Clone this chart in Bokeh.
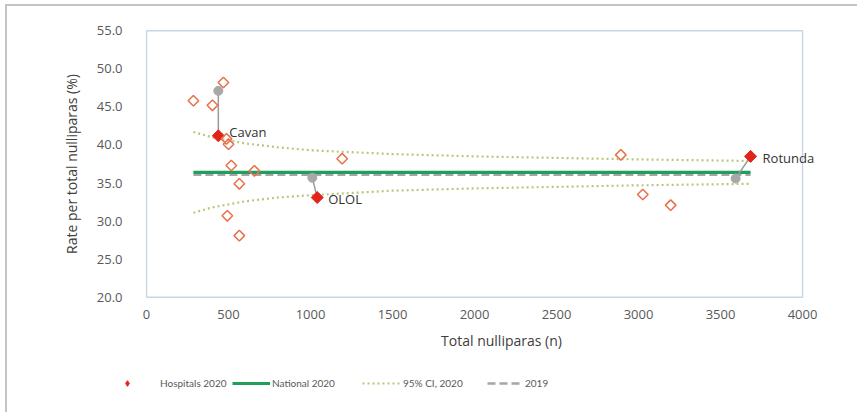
import math
from bokeh.plotting import figure
from bokeh.layouts import column
from bokeh.models import (Range1d, FixedTicker, PrintfTickFormatter, Legend,
                          LegendItem)
from bokeh.core.properties import value
from bokeh.embed import file_html
from bokeh.resources import INLINE

# Hospitals 2020: total nulliparas (n) and rate per total nulliparas (%)
hosp_n = [286, 402, 469, 488, 500, 517, 566, 658, 493, 566, 1193, 2892, 3026, 3196]
hosp_rate = [45.8, 45.2, 48.2, 40.8, 40.1, 37.3, 34.9, 36.6, 30.7, 28.1, 38.2, 38.7, 33.5, 32.1]

# Highlighted hospitals, 2020 and their 2019 positions
named = ["Cavan", "OLOL", "Rotunda"]
named_n_2020 = [438, 1041, 3683]
named_rate_2020 = [41.2, 33.1, 38.5]
named_n_2019 = [438, 1011, 3592]
named_rate_2019 = [47.1, 35.7, 35.6]

# National rates
national_2020 = 36.4
national_2019 = 36.1

# 95% control limits around the national 2020 rate
ci_n = [286, 400, 600, 800, 1000, 1500, 2000, 2500, 3000, 3683]
ci_upper = [41.7, 41.0, 40.2, 39.7, 39.3, 38.8, 38.5, 38.3, 38.1, 37.9]
ci_lower = [31.1, 31.8, 32.6, 33.1, 33.4, 34.0, 34.3, 34.5, 34.7, 34.9]

x_ticks = [0, 500, 1000, 1500, 2000, 2500, 3000, 3500, 4000]
y_ticks = [20, 25, 30, 35, 40, 45, 50, 55]
x_min, x_max = 0, 4000
y_min, y_max = 20, 55

legend_labels = ["Hospitals 2020", "National 2020", "95% CI, 2020", "2019"]

FONT = "Open Sans"
TXT = "#595959"
EDGE = "#c4c4c4"
RED = "#e2231a"
GREEN = "#1f9e5c"
OLIVE = "#b7c87c"
GREY = "#a6a6a6"

W = 857
LEG_H = 40

p = figure(width=W, height=412 - LEG_H, output_backend="svg", toolbar_location=None,
           x_range=Range1d(-6, 4335), y_range=Range1d(19.85, 55.15),
           min_border_left=145, min_border_right=0,
           min_border_top=29, min_border_bottom=412 - LEG_H - 298)
p.frame_align = False
p.background_fill_color = "white"
p.border_fill_alpha = 0
p.outline_line_color = None
# thin rule along the top and left of the chart
p.styles = {
    "background": (f"linear-gradient({EDGE},{EDGE}) 6px 4px / 100% 2px no-repeat, "
                   f"linear-gradient({EDGE},{EDGE}) 5px 4px / 2px 100% no-repeat, white")
}
p.xgrid.visible = False
p.ygrid.visible = False

for ax in (p.xaxis, p.yaxis):
    ax.axis_line_color = None
    ax.major_tick_line_color = None
    ax.minor_tick_line_color = None
    ax.major_label_text_font = FONT
    ax.major_label_text_font_size = "13px"
    ax.major_label_text_color = TXT
    ax.axis_label_text_font = FONT
    ax.axis_label_text_font_size = "14px"
    ax.axis_label_text_font_style = "normal"
    ax.axis_label_text_color = "#404040"

p.xaxis.ticker = FixedTicker(ticks=x_ticks)
p.yaxis.ticker = FixedTicker(ticks=y_ticks)
p.yaxis.formatter = PrintfTickFormatter(format="%.1f")
p.xaxis.axis_label = "Total nulliparas (n)"
p.yaxis.axis_label = "Rate per total nulliparas (%)"
p.yaxis.major_label_standoff = 17
p.xaxis.major_label_standoff = 5
p.yaxis.axis_label_standoff = 13
p.xaxis.axis_label_standoff = 9

# plot-area box
p.quad(left=[x_min], right=[x_max], bottom=[y_min], top=[y_max],
       fill_color=None, line_color="#c9d6e3", line_width=1.5)

all_n = hosp_n + named_n_2020
n_lo, n_hi = min(all_n), max(all_n)


def draw_series(fig, red_marker, red_size):
    """National, CI and hospital marks; returns the renderers used as legend keys."""
    r19 = fig.line([n_lo, n_hi], [national_2019, national_2019],
                   line_color=GREY, line_width=2.5, line_dash="8 4")
    r20 = fig.line([n_lo, n_hi], [national_2020, national_2020],
                   line_color=GREEN, line_width=3.2)
    rci = fig.line(ci_n, ci_upper, line_color=OLIVE, line_width=2.2, line_dash="2 3")
    fig.line(ci_n, ci_lower, line_color=OLIVE, line_width=2.2, line_dash="2 3")
    fig.segment(x0=named_n_2019, y0=named_rate_2019, x1=named_n_2020, y1=named_rate_2020,
                line_color="#9a9a9a", line_width=1.5)
    fig.scatter(named_n_2019, named_rate_2019, marker="circle", size=9,
                fill_color="#a8a8a8", line_color="#a8a8a8")
    angle = math.pi / 4 if red_marker == "square" else 0
    rred = fig.scatter(named_n_2020, named_rate_2020, marker=red_marker, size=red_size,
                       angle=angle, fill_color=RED, line_color=RED)
    fig.scatter(hosp_n, hosp_rate, marker="square", size=7.5, angle=math.pi / 4,
                fill_color=None, line_color="#e8704a", line_width=1.5)
    return rred, r20, rci, r19


draw_series(p, "square", 8.5)

p.text(x=named_n_2020, y=named_rate_2020, text=named,
       x_offset=[11, 11, 12], y_offset=[-4, 1, 2],
       text_font=value(FONT), text_font_size="13px", text_color="#333333",
       text_baseline="middle", text_align="left")

# Legend strip underneath the chart: its view window holds none of the data,
# so only the legend keys show
lg = figure(width=W, height=LEG_H, output_backend="svg", toolbar_location=None,
            x_range=Range1d(0, W), y_range=Range1d(100, 100 + LEG_H),
            x_axis_type=None, y_axis_type=None,
            min_border=0, min_border_left=0, min_border_right=0,
            min_border_top=0, min_border_bottom=0)
lg.frame_align = False
lg.background_fill_alpha = 0
lg.border_fill_alpha = 0
lg.outline_line_color = None
lg.xgrid.visible = False
lg.ygrid.visible = False
lg.styles = {
    "background": (f"linear-gradient({EDGE},{EDGE}) 5px 0px / 2px 100% no-repeat, white")
}

keys = draw_series(lg, "diamond", 10)
entries = [(120, 14, 26), (232, 38, 2), (362, 38, 3), (487, 33, 5)]
for label, rend, (left, gw, standoff) in zip(legend_labels, keys, entries):
    lg.add_layout(Legend(items=[LegendItem(label=label, renderers=[rend])],
                         location=(left, LEG_H - 19), orientation="horizontal",
                         border_line_color=None, background_fill_alpha=0,
                         padding=0, margin=0, spacing=0,
                         glyph_width=gw, glyph_height=16, label_height=16,
                         label_standoff=standoff,
                         label_text_font="Lato", label_text_font_size="10px",
                         label_text_color=TXT))

layout = column(p, lg, spacing=0)
open("out.html", "w").write(file_html(layout, INLINE))
